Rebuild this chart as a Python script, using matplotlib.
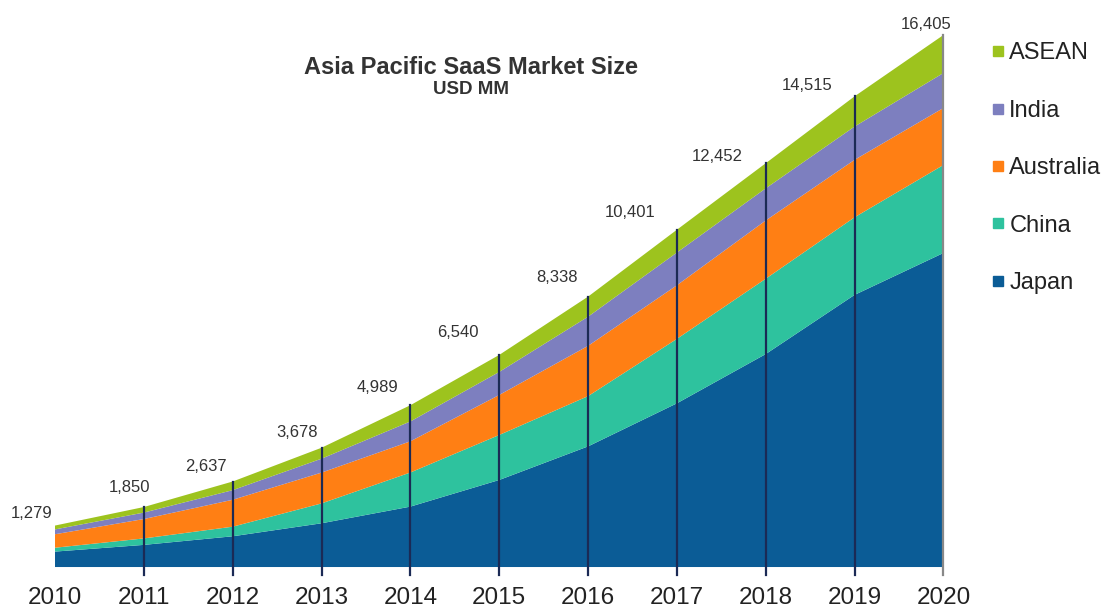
import numpy as np
import matplotlib
matplotlib.use("Agg")
from matplotlib import pyplot as plt
from matplotlib.lines import Line2D

plt.rcParams['font.family'] = ['Liberation Sans', 'DejaVu Sans']

# data (USD MM)
years = [2010, 2011, 2012, 2013, 2014, 2015, 2016, 2017, 2018, 2019, 2020]
japan = [476, 683, 948, 1349, 1863, 2684, 3720, 5048, 6567, 8392, 9683]
china = [119, 199, 296, 613, 1052, 1388, 1550, 1988, 2323, 2393, 2714]
australia = [416, 598, 830, 950, 962, 1234, 1550, 1652, 1797, 1772, 1758]
india = [149, 199, 296, 429, 612, 710, 899, 1010, 991, 1026, 1079]
asean = [119, 171, 267, 337, 500, 524, 619, 703, 774, 932, 1171]
totals = [1279, 1850, 2637, 3678, 4989, 6540, 8338, 10401, 12452, 14515, 16405]

names = ["Japan", "China", "Australia", "India", "ASEAN"]
colors = ["#0b5c96", "#2ec29e", "#ff7f14", "#7d7fbf", "#9dc31e"]

# where each total label sits relative to the top of the stack (pixels)
label_offsets = [(-23, 12), (-14, 20), (-27, 15), (-24, 15), (-33, 18),
                 (-41, 22), (-31, 19), (-47, 17), (-49, 7), (-47, 11),
                 (-17, 11)]

fig = plt.figure(figsize=(11.04, 6.08), dpi=100)
ax = fig.add_axes([55/1104, 28/608, (947-55)/1104, 560/608])

ax.stackplot(years, japan, china, australia, india, asean,
             colors=colors, linewidth=0)

# vertical year markers
top = np.vstack([japan, china, australia, india, asean]).sum(axis=0)
for i, yr in enumerate(years):
    if i == 0:
        continue
    c = "#888888" if i == len(years) - 1 else "#1b2a55"
    ax.plot([yr, yr], [-250, top[i]], color=c, lw=1.6, zorder=3)

# total labels
px = 72 / 100
for yr, t, (dx, dy) in zip(years, totals, label_offsets):
    ax.annotate(f"{t:,}", (yr, t), xytext=(dx * px, dy * px),
                textcoords="offset points", ha="center", va="center",
                fontsize=12, color="#333333")

ax.set_xlim(2010, 2020.04)
ax.set_ylim(-400, 16868)
ax.set_xticks(years)
ax.set_xticklabels([str(y) for y in years])
ax.tick_params(axis="x", length=0, pad=5, labelsize=17.5, colors="#222222")
ax.set_yticks([])
for s in ax.spines.values():
    s.set_visible(False)
ax.patch.set_alpha(0)

fig.text(471/1104, 1 - 67/608, "Asia Pacific SaaS Market Size", ha="center",
         va="center", fontsize=17, fontweight="bold", color="#333333")
fig.text(471/1104, 1 - 89/608, "USD MM", ha="center", va="center",
         fontsize=13.5, fontweight="bold", color="#333333")

handles = [Line2D([], [], marker="s", ls="", color=c, markersize=7.5)
           for c in colors]
leg = fig.legend(handles[::-1], names[::-1], loc="upper left",
                 bbox_to_anchor=(981/1104, 1 - 33/608), frameon=False,
                 fontsize=17, handlelength=0.6, handletextpad=0.2,
                 labelspacing=1.5, borderaxespad=0)
for t in leg.get_texts():
    t.set_color("#222222")

fig.savefig("out.png", dpi=100)
